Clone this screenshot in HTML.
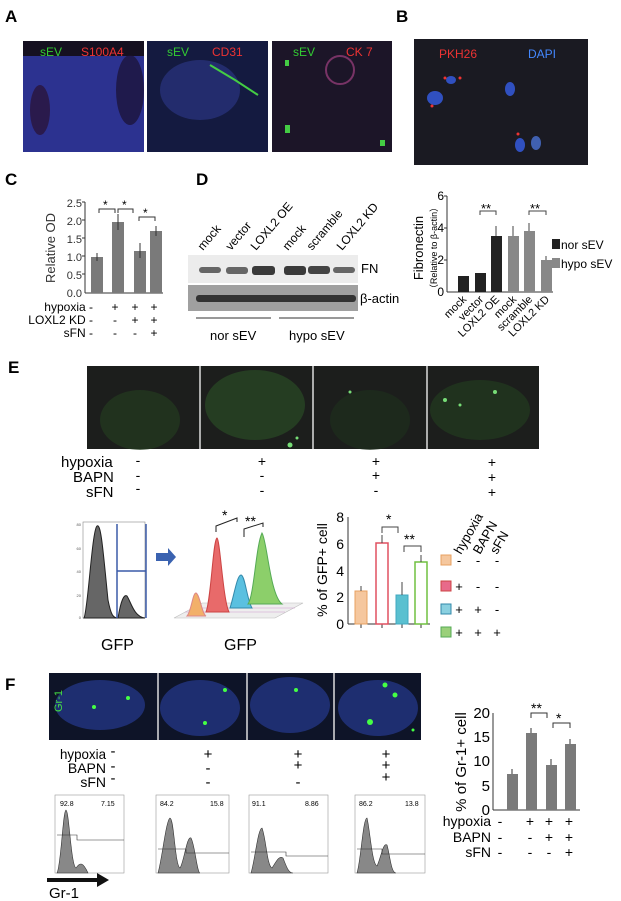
<!DOCTYPE html><html><head><meta charset="utf-8"><style>body{margin:0;background:#fff}svg{display:block;font-family:"Liberation Sans",sans-serif}</style></head><body>
<svg width="621" height="901" viewBox="0 0 621 901" xmlns="http://www.w3.org/2000/svg">
<g font-weight="bold" font-size="17"><text x="5" y="22">A</text><text x="396" y="22">B</text><text x="5" y="185">C</text><text x="196" y="185">D</text><text x="8" y="373">E</text><text x="5" y="690">F</text></g>
<!-- A -->
<rect x="23" y="41" width="121" height="111" fill="#2c3290"/><rect x="147" y="41" width="121" height="111" fill="#141a40"/><rect x="272" y="41" width="120" height="111" fill="#1c1528"/>
<rect x="23" y="41" width="121" height="15" fill="#151020"/>
<g opacity="0.7"><ellipse cx="130" cy="90" rx="14" ry="35" fill="#1a1030"/><ellipse cx="40" cy="110" rx="10" ry="25" fill="#2a1030"/><ellipse cx="200" cy="90" rx="40" ry="30" fill="#2a3580"/><circle cx="340" cy="70" r="14" fill="none" stroke="#a04080" stroke-width="2"/></g>
<path d="M210 65 L235 80 L258 95" stroke="#4c4" stroke-width="2" fill="none"/>
<g fill="#4c4"><rect x="285" y="60" width="4" height="6"/><rect x="285" y="125" width="5" height="8"/><rect x="380" y="140" width="5" height="6"/></g>
<g font-size="12"><text x="40" y="56" fill="#3c3">sEV</text><text x="81" y="56" fill="#e33">S100A4</text><text x="167" y="56" fill="#3c3">sEV</text><text x="212" y="56" fill="#e33">CD31</text><text x="293" y="56" fill="#3c3">sEV</text><text x="346" y="56" fill="#e33">CK 7</text></g>
<rect x="414" y="39" width="174" height="126" fill="#1a1a22"/>
<g font-size="12"><text x="439" y="58" fill="#e33">PKH26</text><text x="528" y="58" fill="#48f">DAPI</text></g>
<ellipse cx="435" cy="98" rx="8" ry="7" fill="#3050c0"/><ellipse cx="451" cy="80" rx="5" ry="4" fill="#3050c0"/><ellipse cx="510" cy="89" rx="5" ry="7" fill="#3050c0"/><ellipse cx="520" cy="145" rx="5" ry="7" fill="#3050c0"/><ellipse cx="536" cy="143" rx="5" ry="7" fill="#4060b0"/>
<g fill="#e33"><circle cx="445" cy="78" r="1.5"/><circle cx="460" cy="78" r="1.5"/><circle cx="432" cy="106" r="1.5"/><circle cx="518" cy="134" r="1.5"/></g>
<!-- C -->
<text transform="translate(55,248) rotate(-90)" text-anchor="middle" font-size="13" fill="#333">Relative OD</text>
<g font-size="11" text-anchor="end" fill="#333"><text x="82" y="207">2.5</text><text x="82" y="225">2.0</text><text x="82" y="243">1.5</text><text x="82" y="261">1.0</text><text x="82" y="279">0.5</text><text x="82" y="297">0.0</text></g>
<g stroke="#333"><line x1="85" y1="202" x2="85" y2="293"/><line x1="82" y1="202" x2="85" y2="202"/><line x1="82" y1="220" x2="85" y2="220"/><line x1="82" y1="238" x2="85" y2="238"/><line x1="82" y1="256" x2="85" y2="256"/><line x1="82" y1="274" x2="85" y2="274"/><line x1="85" y1="293" x2="163" y2="293"/></g>
<g fill="#7a7a7a"><rect x="91" y="257" width="12" height="36"/><rect x="112" y="222" width="12" height="71"/><rect x="134" y="251" width="12" height="42"/><rect x="150" y="231" width="12" height="62"/></g>
<g stroke="#333" fill="none"><path d="M97 253v8M118 214v16M140 243v15M156 226v10M99 213v-4h16v4M118 213v-4h15v4M139 221v-4h16v4"/></g>
<g font-size="12"><text x="103" y="209">*</text><text x="122" y="209">*</text><text x="143" y="217">*</text></g>
<g font-size="12" text-anchor="end"><text x="93" y="311">hypoxia -</text><text x="93" y="324">LOXL2 KD -</text><text x="93" y="337">sFN -</text></g>
<g font-size="12" text-anchor="middle"><text x="115" y="311">+</text><text x="135" y="311">+</text><text x="154" y="311">+</text><text x="115" y="324">-</text><text x="135" y="324">+</text><text x="154" y="324">+</text><text x="115" y="337">-</text><text x="135" y="337">-</text><text x="154" y="337">+</text></g>
<!-- D blot -->
<g font-size="12"><text transform="translate(203,251) rotate(-50)">mock</text><text transform="translate(231,251) rotate(-50)">vector</text><text transform="translate(256,251) rotate(-50)">LOXL2 OE</text><text transform="translate(288,251) rotate(-50)">mock</text><text transform="translate(312,251) rotate(-50)">scramble</text><text transform="translate(342,251) rotate(-50)">LOXL2 KD</text></g>
<rect x="188" y="255" width="170" height="28" fill="#ececec"/><rect x="188" y="285" width="170" height="26" fill="#a0a0a0"/>
<g fill="#666"><rect x="199" y="267" width="22" height="6" rx="3"/><rect x="226" y="267" width="22" height="7" rx="3"/><rect x="252" y="266" width="23" height="9" rx="3" fill="#3a3a3a"/><rect x="284" y="266" width="22" height="9" rx="3" fill="#3a3a3a"/><rect x="308" y="266" width="22" height="8" rx="3" fill="#444"/><rect x="333" y="267" width="22" height="6" rx="3"/></g>
<g fill="#333"><rect x="196" y="295" width="160" height="7" rx="3"/></g>
<g font-size="13"><text x="361" y="273">FN</text><text x="360" y="303">β-actin</text><text x="210" y="340">nor sEV</text><text x="289" y="340">hypo sEV</text></g>
<g stroke="#333"><line x1="196" y1="318" x2="271" y2="318"/><line x1="279" y1="318" x2="354" y2="318"/></g>
<!-- D chart -->
<text transform="translate(423,248) rotate(-90)" text-anchor="middle" font-size="13">Fibronectin</text>
<text transform="translate(437,248) rotate(-90)" text-anchor="middle" font-size="9">（Relative to β-actin）</text>
<g font-size="12" text-anchor="end"><text x="444" y="200">6</text><text x="444" y="232">4</text><text x="444" y="264">2</text><text x="444" y="296">0</text></g>
<g stroke="#333"><line x1="447" y1="196" x2="447" y2="292"/><line x1="447" y1="292" x2="553" y2="292"/><line x1="444" y1="196" x2="447" y2="196"/><line x1="444" y1="228" x2="447" y2="228"/><line x1="444" y1="260" x2="447" y2="260"/></g>
<g fill="#222"><rect x="458" y="276" width="11" height="16"/><rect x="475" y="273" width="11" height="19"/><rect x="491" y="236" width="11" height="56"/></g>
<g fill="#888"><rect x="508" y="236" width="11" height="56"/><rect x="524" y="231" width="11" height="61"/><rect x="541" y="260" width="11" height="32"/></g>
<g stroke="#444" fill="none"><path d="M496 226v10M513 226v10M529 223v8M546 256v4M480 215v-4h16v4M529 215v-4h17v4"/></g>
<g font-size="13"><text x="481" y="213">**</text><text x="530" y="213">**</text></g>
<rect x="552" y="239" width="8" height="10" fill="#222"/><rect x="552" y="258" width="8" height="10" fill="#888"/>
<g font-size="12"><text x="561" y="249">nor sEV</text><text x="561" y="268">hypo sEV</text></g>
<g font-size="11"><text transform="translate(467,300) rotate(-45)" text-anchor="end">mock</text><text transform="translate(484,300) rotate(-45)" text-anchor="end">vector</text><text transform="translate(500,300) rotate(-45)" text-anchor="end">LOXL2 OE</text><text transform="translate(517,300) rotate(-45)" text-anchor="end">mock</text><text transform="translate(533,300) rotate(-45)" text-anchor="end">scramble</text><text transform="translate(550,300) rotate(-45)" text-anchor="end">LOXL2 KD</text></g>
<!-- E -->
<rect x="87" y="366" width="452" height="83" fill="#1c1e1c"/>
<ellipse cx="140" cy="420" rx="40" ry="30" fill="#233a20" opacity="0.7"/><ellipse cx="255" cy="405" rx="50" ry="35" fill="#2a4a25" opacity="0.7"/><ellipse cx="370" cy="420" rx="40" ry="30" fill="#1e2e1c" opacity="0.7"/><ellipse cx="480" cy="410" rx="50" ry="30" fill="#223a20" opacity="0.7"/>
<g fill="#7d7"><circle cx="290" cy="445" r="2.5"/><circle cx="297" cy="438" r="1.5"/><circle cx="445" cy="400" r="2"/><circle cx="460" cy="405" r="1.5"/><circle cx="495" cy="392" r="2"/><circle cx="350" cy="392" r="1.5"/></g>
<g stroke="#ddd" stroke-width="1.5"><line x1="200" y1="366" x2="200" y2="449"/><line x1="313" y1="366" x2="313" y2="449"/><line x1="427" y1="366" x2="427" y2="449"/></g>
<g font-size="15"><text x="61" y="467">hypoxia</text><text x="73" y="482">BAPN</text><text x="86" y="497">sFN</text></g>
<g font-size="14" text-anchor="middle"><text x="138" y="465">-</text><text x="138" y="480">-</text><text x="138" y="493">-</text><text x="262" y="466">+</text><text x="262" y="480">-</text><text x="262" y="495">-</text><text x="376" y="466">+</text><text x="376" y="480">+</text><text x="376" y="495">-</text><text x="492" y="467">+</text><text x="492" y="482">+</text><text x="492" y="497">+</text></g>
<g stroke="#888" fill="none" stroke-width="0.6"><rect x="83" y="522" width="62" height="96"/></g>
<g font-size="4" fill="#555" text-anchor="end"><text x="81" y="526">80</text><text x="81" y="550">60</text><text x="81" y="573">40</text><text x="81" y="597">20</text><text x="81" y="619">0</text></g>
<path d="M84 618 C88 610 92 530 97 526 C101 523 103 550 108 600 C111 615 113 618 118 618 C121 600 124 594 127 596 C131 602 134 617 145 618Z" fill="#666" stroke="#222"/>
<g stroke="#3a5aa8" stroke-width="1.5"><line x1="117" y1="524" x2="117" y2="618"/><line x1="146" y1="524" x2="146" y2="618"/><line x1="117" y1="571" x2="146" y2="571"/></g>
<text x="101" y="650" font-size="16">GFP</text>
<path d="M156 553h12v-5l8 9-8 9v-5h-12z" fill="#3a62b0"/>
<g stroke="#bbb" fill="#eee" stroke-width="0.6"><path d="M174 618 L275 618 L303 603 L202 603Z"/><path d="M185 612h100M190 608h105" stroke="#c9c"/></g>
<path d="M187 616 C191 612 193 592 196 593 C200 595 202 614 206 616Z" fill="#f2b06a" stroke="#d88"/>
<path d="M206 612 C211 600 213 540 217 538 C220 539 223 600 229 612Z" fill="#e86a6a" stroke="#c44"/>
<path d="M230 608 C234 596 237 575 241 575 C245 575 247 600 252 608Z" fill="#5ac0e0" stroke="#38a"/>
<path d="M248 604 C254 596 256 545 262 533 C267 540 270 595 282 604Z" fill="#8ccf6a" stroke="#5a5"/>
<g stroke="#222" fill="none"><path d="M216 532v-6l21-8v4M244 537v-8l19-6v4"/></g>
<g font-size="14"><text x="222" y="520">*</text><text x="245" y="526">**</text></g>
<text x="224" y="650" font-size="16">GFP</text>
<!-- E chart -->
<text transform="translate(327,570) rotate(-90)" text-anchor="middle" font-size="14">% of GFP+ cell</text>
<g font-size="14" text-anchor="end"><text x="344" y="522">8</text><text x="344" y="549">6</text><text x="344" y="576">4</text><text x="344" y="602">2</text><text x="344" y="629">0</text></g>
<g stroke="#333"><line x1="348" y1="517" x2="348" y2="624"/><line x1="348" y1="624" x2="430" y2="624"/><path d="M361 624v4M382 624v4M402 624v4M421 624v4"/></g>
<rect x="355" y="591" width="12" height="33" fill="#f5c79e" stroke="#e8a060"/>
<rect x="376" y="543" width="12" height="81" fill="#fff" stroke="#e05060" stroke-width="1.5"/>
<rect x="396" y="595" width="12" height="29" fill="#5ac0d0" stroke="#40a8c0"/>
<rect x="415" y="562" width="12" height="62" fill="#fff" stroke="#70c040" stroke-width="1.5"/>
<g stroke="#444" fill="none"><path d="M361 586v5M382 535v8M402 582v13M421 555v7M382 533v-6h16v6M404 552v-6h17v6"/></g>
<g font-size="14"><text x="386" y="524">*</text><text x="404" y="544">**</text></g>
<rect x="441" y="555" width="10" height="10" fill="#f5c79e" stroke="#e8a060"/><rect x="441" y="581" width="10" height="10" fill="#e86a8a" stroke="#c44"/><rect x="441" y="604" width="10" height="10" fill="#8ad0e0" stroke="#38a"/><rect x="441" y="627" width="10" height="10" fill="#9ad07a" stroke="#5a5"/>
<g font-size="13"><text transform="translate(461,555) rotate(-60)">hypoxia</text><text transform="translate(480,555) rotate(-60)">BAPN</text><text transform="translate(497,555) rotate(-60)">sFN</text></g>
<g font-size="13" text-anchor="middle"><text x="459" y="565">-</text><text x="478" y="565">-</text><text x="497" y="565">-</text><text x="459" y="591">+</text><text x="478" y="591">-</text><text x="497" y="591">-</text><text x="459" y="614">+</text><text x="478" y="614">+</text><text x="497" y="614">-</text><text x="459" y="637">+</text><text x="478" y="637">+</text><text x="497" y="637">+</text></g>
<!-- F -->
<rect x="49" y="673" width="372" height="67" fill="#0e1428"/>
<g fill="#2a40a0" opacity="0.6"><ellipse cx="100" cy="705" rx="45" ry="25"/><ellipse cx="200" cy="708" rx="40" ry="28"/><ellipse cx="290" cy="705" rx="40" ry="28"/><ellipse cx="378" cy="708" rx="40" ry="28"/></g>
<g fill="#4f4"><circle cx="94" cy="707" r="2"/><circle cx="128" cy="698" r="2"/><circle cx="205" cy="723" r="2"/><circle cx="225" cy="690" r="2"/><circle cx="296" cy="690" r="2"/><circle cx="385" cy="685" r="2.5"/><circle cx="395" cy="695" r="2.5"/><circle cx="370" cy="722" r="3"/><circle cx="413" cy="730" r="1.5"/></g>
<g stroke="#ddd" stroke-width="1.5"><line x1="158" y1="673" x2="158" y2="740"/><line x1="247" y1="673" x2="247" y2="740"/><line x1="334" y1="673" x2="334" y2="740"/></g>
<text transform="translate(62,712) rotate(-90)" font-size="11" fill="#4d4">Gr-1</text>
<g font-size="14" text-anchor="end"><text x="106" y="759" textLength="46" lengthAdjust="spacingAndGlyphs">hypoxia</text><text x="106" y="773">BAPN</text><text x="106" y="787">sFN</text></g>
<g font-size="15" text-anchor="middle"><text x="113" y="756">-</text><text x="113" y="771">-</text><text x="113" y="783">-</text><text x="208" y="759">+</text><text x="208" y="773">-</text><text x="208" y="787">-</text><text x="298" y="759">+</text><text x="298" y="770">+</text><text x="298" y="787">-</text><text x="386" y="759">+</text><text x="386" y="770">+</text><text x="386" y="782">+</text></g>
<g stroke="#999" fill="none" stroke-width="0.6"><rect x="55" y="795" width="69" height="78"/><rect x="156" y="795" width="73" height="78"/><rect x="249" y="795" width="79" height="78"/><rect x="355" y="795" width="70" height="78"/></g>
<g fill="#888" stroke="#333" stroke-width="0.6"><path d="M57 873 C61 866 63 810 66 810 C69 810 71 866 76 868 C80 862 83 862 88 873Z"/><path d="M158 873 C162 860 166 820 170 818 C174 818 175 866 180 868 C184 862 187 835 191 838 C195 845 197 873 200 873Z"/><path d="M251 873 C255 860 258 828 262 828 C266 838 267 866 272 868 C276 862 279 855 283 858 C286 865 288 873 293 873Z"/><path d="M357 873 C361 860 363 818 367 818 C370 830 372 864 377 866 C381 858 383 842 387 845 C390 855 391 873 396 873Z"/></g>
<g stroke="#333" stroke-width="0.6" fill="none"><path d="M57 835h20v5h47M158 849h28v4h43M251 852h35v4h42M357 849h25v5h43"/></g>
<g font-size="7"><text x="60" y="806">92.8</text><text x="101" y="806">7.15</text><text x="160" y="806">84.2</text><text x="210" y="806">15.8</text><text x="252" y="806">91.1</text><text x="305" y="806">8.86</text><text x="359" y="806">86.2</text><text x="405" y="806">13.8</text></g>
<path d="M47 878h50v-5l12 7-12 7v-5h-50z" fill="#111"/>
<text x="49" y="898" font-size="15">Gr-1</text>
<!-- F chart -->
<text transform="translate(466,762) rotate(-90)" text-anchor="middle" font-size="15">% of Gr-1+ cell</text>
<g font-size="15" text-anchor="end"><text x="490" y="718">20</text><text x="490" y="742">15</text><text x="490" y="766">10</text><text x="490" y="791">5</text><text x="490" y="815">0</text></g>
<g stroke="#333"><line x1="493" y1="713" x2="493" y2="810"/><line x1="493" y1="810" x2="580" y2="810"/></g>
<g fill="#7a7a7a"><rect x="507" y="774" width="11" height="36"/><rect x="526" y="733" width="11" height="77"/><rect x="546" y="765" width="11" height="45"/><rect x="565" y="744" width="11" height="66"/></g>
<g stroke="#333" fill="none"><path d="M512 769v5M531 728v5M551 759v6M570 739v5M531 718v-5h16v5M553 728v-5h17v5"/></g>
<g font-size="14"><text x="531" y="713">**</text><text x="556" y="723">*</text></g>
<g font-size="14" text-anchor="end"><text x="491" y="826">hypoxia</text><text x="491" y="842">BAPN</text><text x="491" y="857">sFN</text></g>
<g font-size="14" text-anchor="middle"><text x="500" y="826">-</text><text x="500" y="842">-</text><text x="500" y="857">-</text><text x="530" y="826">+</text><text x="549" y="826">+</text><text x="569" y="826">+</text><text x="530" y="842">-</text><text x="549" y="842">+</text><text x="569" y="842">+</text><text x="530" y="857">-</text><text x="549" y="857">-</text><text x="569" y="857">+</text></g>
</svg></body></html>
